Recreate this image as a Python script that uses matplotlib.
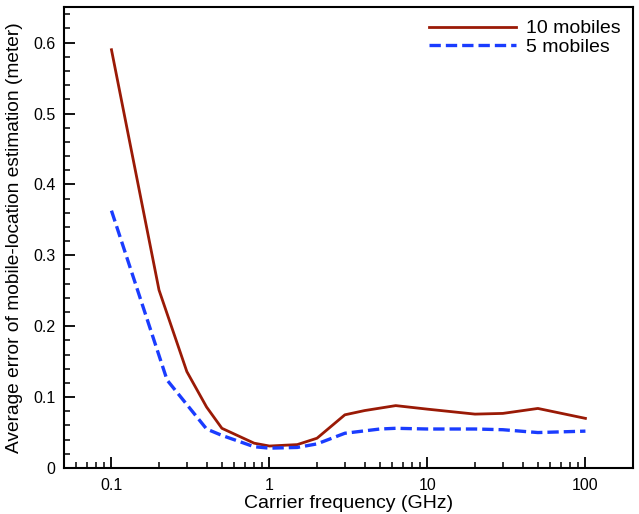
import matplotlib
matplotlib.use("Agg")
import matplotlib.pyplot as plt
from matplotlib.ticker import FixedLocator, LogLocator, MultipleLocator, NullFormatter

plt.rcParams['font.family'] = ['Liberation Sans', 'DejaVu Sans']

freq_10 = [0.1, 0.2, 0.3, 0.4, 0.5, 0.8, 1.0, 1.5, 2.0, 3.0, 4.0, 6.3, 10, 20, 30, 50, 100]
err_10 = [0.590, 0.251, 0.136, 0.086, 0.056, 0.035, 0.031, 0.033, 0.042, 0.075, 0.081, 0.088, 0.083, 0.076, 0.077, 0.084, 0.070]

freq_5 = [0.1, 0.225, 0.4, 0.5, 0.8, 1.0, 1.5, 2.0, 3.0, 5.0, 6.3, 10, 20, 30, 50, 100]
err_5 = [0.363, 0.124, 0.055, 0.046, 0.030, 0.028, 0.029, 0.034, 0.049, 0.055, 0.056, 0.055, 0.055, 0.054, 0.050, 0.052]

x_ticks = [0.1, 1, 10, 100]
x_tick_labels = ["0.1", "1", "10", "100"]
y_ticks = [0, 0.1, 0.2, 0.3, 0.4, 0.5, 0.6]
y_tick_labels = ["0", "0.1", "0.2", "0.3", "0.4", "0.5", "0.6"]

fig = plt.figure(figsize=(6.39, 5.14), dpi=100)
ax = fig.add_axes([0.100, 0.0895, 0.8906, 0.8965])

ax.plot(freq_10, err_10, color='#9a1a06', lw=2.0, label='10 mobiles')
ax.plot(freq_5, err_5, color='#1a3cff', lw=2.4, ls=(0, (3.4, 1.5)), label='5 mobiles')

ax.set_xscale('log')
ax.set_xlim(0.05, 200)
ax.set_ylim(0, 0.65)

ax.xaxis.set_major_locator(FixedLocator(x_ticks))
ax.set_xticklabels(x_tick_labels)
ax.xaxis.set_minor_locator(LogLocator(base=10, subs=range(2, 10)))
ax.xaxis.set_minor_formatter(NullFormatter())
ax.set_yticks(y_ticks)
ax.set_yticklabels(y_tick_labels)
ax.yaxis.set_minor_locator(MultipleLocator(0.02))

ax.tick_params(which='both', direction='in', top=False, right=False, labelsize=11.5, width=1.3)
ax.tick_params(which='major', length=8)
ax.tick_params(which='minor', length=4, width=1.1)
ax.tick_params(axis='x', pad=7)
ax.tick_params(axis='y', pad=6)
for s in ax.spines.values():
    s.set_linewidth(1.5)

ax.set_xlabel('Carrier frequency (GHz)', fontsize=14, labelpad=2)
ax.set_ylabel('Average error of mobile-location estimation (meter)', fontsize=13.8, labelpad=7)

leg = ax.legend(loc='upper right', frameon=False, fontsize=14, handlelength=4.5,
                handletextpad=0.5, labelspacing=0.05, borderaxespad=0.25,
                borderpad=0.4)

fig.savefig('out.png', dpi=100)
